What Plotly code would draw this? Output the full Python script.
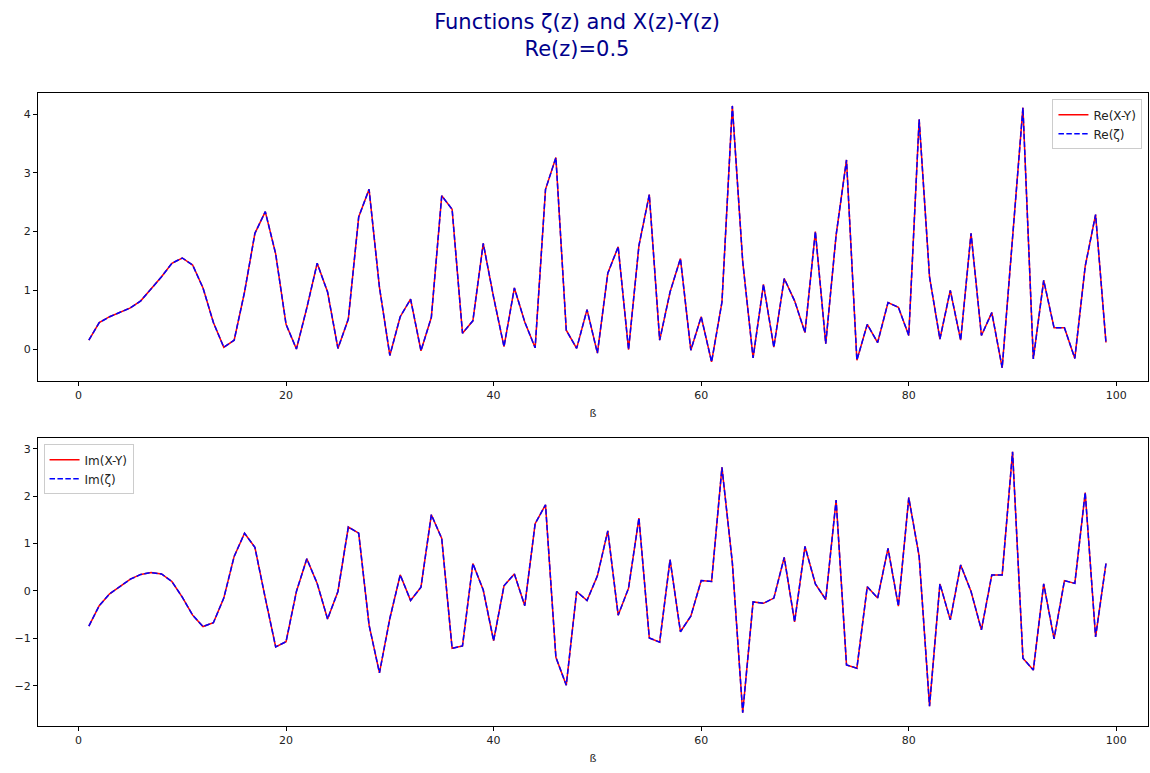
import plotly.graph_objects as go

beta = list(range(1, 100))

re_xy = [0.15, 0.45, 0.55, 0.62, 0.70, 0.82, 1.02, 1.23, 1.46, 1.55,
         1.43, 1.04, 0.45, 0.03, 0.15, 0.97, 1.97, 2.34, 1.62, 0.42,
         0.00, 0.70, 1.46, 0.97, 0.01, 0.51, 2.25, 2.72, 1.05, -0.11,
         0.55, 0.85, -0.03, 0.54, 2.61, 2.38, 0.27, 0.48, 1.80, 0.88,
         0.04, 1.04, 0.46, 0.02, 2.72, 3.26, 0.32, 0.01, 0.67, -0.07,
         1.29, 1.74, -0.01, 1.76, 2.63, 0.15, 0.97, 1.54, -0.02, 0.55,
         -0.22, 0.80, 4.14, 1.49, -0.15, 1.10, 0.03, 1.20, 0.82, 0.28,
         2.00, 0.09, 1.94, 3.22, -0.19, 0.42, 0.11, 0.79, 0.71, 0.23,
         3.91, 1.23, 0.17, 1.00, 0.15, 1.97, 0.23, 0.62, -0.32, 1.88,
         4.11, -0.17, 1.17, 0.36, 0.36, -0.16, 1.41, 2.29, 0.11]
re_zeta = list(re_xy)

im_xy = [-0.74, -0.31, -0.06, 0.10, 0.25, 0.35, 0.39, 0.36, 0.20, -0.13,
         -0.51, -0.75, -0.67, -0.15, 0.73, 1.22, 0.92, -0.15, -1.18, -1.07,
         -0.01, 0.68, 0.16, -0.59, -0.01, 1.35, 1.22, -0.72, -1.73, -0.58,
         0.34, -0.20, 0.08, 1.61, 1.11, -1.21, -1.16, 0.58, 0.02, -1.05,
         0.11, 0.36, -0.31, 1.42, 1.82, -1.40, -1.99, -0.01, -0.20, 0.32,
         1.27, -0.51, 0.06, 1.54, -0.99, -1.08, 0.66, -0.86, -0.53, 0.22,
         0.20, 2.61, 0.60, -2.57, -0.23, -0.26, -0.15, 0.71, -0.65, 0.94,
         0.15, -0.18, 1.92, -1.56, -1.63, 0.09, -0.15, 0.90, -0.32, 1.97,
         0.73, -2.43, 0.15, -0.61, 0.55, -0.01, -0.82, 0.34, 0.34, 2.94,
         -1.42, -1.67, 0.15, -1.01, 0.22, 0.16, 2.08, -0.97, 0.58]
im_zeta = list(im_xy)

W, H = 1150, 773

fig = go.Figure()
fig.add_trace(go.Scatter(x=beta, y=re_xy, mode="lines", name="Re(X-Y)",
                         line=dict(color="red", width=1.5), xaxis="x", yaxis="y", legend="legend"))
fig.add_trace(go.Scatter(x=beta, y=re_zeta, mode="lines", name="Re(ζ)",
                         line=dict(color="blue", width=1.5, dash="5.5px,2.4px"), xaxis="x", yaxis="y", legend="legend"))
fig.add_trace(go.Scatter(x=beta, y=im_xy, mode="lines", name="Im(X-Y)",
                         line=dict(color="red", width=1.5), xaxis="x2", yaxis="y2", legend="legend2"))
fig.add_trace(go.Scatter(x=beta, y=im_zeta, mode="lines", name="Im(ζ)",
                         line=dict(color="blue", width=1.5, dash="5.5px,2.4px"), xaxis="x2", yaxis="y2", legend="legend2"))

axis_common = dict(showline=True, mirror=True, linecolor="black", linewidth=1,
                   ticks="outside", ticklen=4, tickcolor="black", showgrid=False,
                   zeroline=False, automargin=False, tickfont=dict(size=11, color="#222"))

fig.update_layout(
    width=W, height=H,
    margin=dict(l=38, r=2, t=93, b=47, autoexpand=False),
    plot_bgcolor="white", paper_bgcolor="white",
    font=dict(family="DejaVu Sans", size=11, color="#222"),
    title=dict(text="Functions ζ(z) and X(z)-Y(z)<br>Re(z)=0.5", x=577 / W, xanchor="center",
               y=1 - 29 / H, yanchor="middle", automargin=False,
               font=dict(size=21, color="darkblue")),
    xaxis=dict(domain=[0, 1], anchor="y", range=[-3.9, 103.05], tickvals=[0, 20, 40, 60, 80, 100],
               title=dict(text="ß", standoff=8, font=dict(size=11)), **axis_common),
    yaxis=dict(domain=[0.545, 1], anchor="x", range=[-0.545, 4.36], tickvals=[0, 1, 2, 3, 4], **axis_common),
    xaxis2=dict(domain=[0, 1], anchor="y2", range=[-3.9, 103.05], tickvals=[0, 20, 40, 60, 80, 100],
                title=dict(text="ß", standoff=8, font=dict(size=11)), **axis_common),
    yaxis2=dict(domain=[0, 0.455], anchor="x2", range=[-2.85, 3.23], tickvals=[-2, -1, 0, 1, 2, 3], **axis_common),
    legend=dict(x=0.995, y=0.99, xanchor="right", yanchor="top", bgcolor="rgba(255,255,255,0.8)",
                bordercolor="#cccccc", borderwidth=1, font=dict(size=12)),
    legend2=dict(x=0.005, y=0.445, xanchor="left", yanchor="top", bgcolor="rgba(255,255,255,0.8)",
                 bordercolor="#cccccc", borderwidth=1, font=dict(size=12)),
)

fig.write_html("out.html", config={"displayModeBar": False},
               post_script="document.body.style.margin='0';document.body.style.overflow='hidden';")
